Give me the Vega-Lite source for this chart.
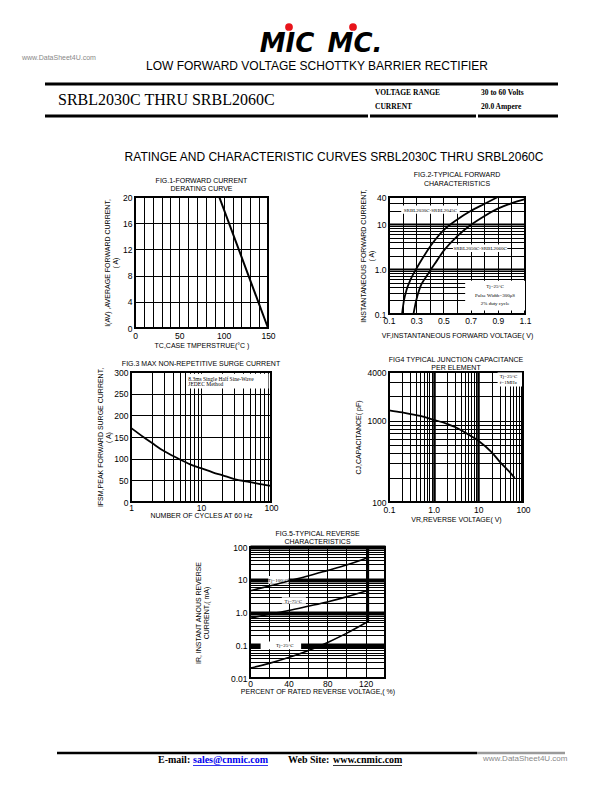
{
"$schema":"https://vega.github.io/schema/vega-lite/v6.json",
"background":"white",
"padding":0,
"spacing":0,
"config":{
 "font":"Liberation Sans",
 "view":{"stroke":null},
 "axis":{"grid":true,"gridColor":"black","gridOpacity":1,"gridWidth":1,"domain":false,"ticks":false,"labelFontSize":8.5,"labelColor":"black","labelPadding":3,"labelFlush":false,"labelOverlap":false,"labelBound":false,"titleFontSize":7,"titleFontWeight":"normal","titleColor":"black","titleLineHeight":8.5,"titlePadding":3},
 "title":{"fontSize":7,"fontWeight":"normal","color":"black","lineHeight":8.5,"frame":"group","anchor":"middle"}
},
"vconcat":[
 {"width":612,"height":170,
  "layer":[
   {"data":{"values":[{"t":"MIC"}]},"mark":{"type":"text","x":287,"y":52,"align":"center","baseline":"alphabetic","font":"DejaVu Sans","fontWeight":"bold","fontStyle":"italic","fontSize":26,"color":"black"},"encoding":{"text":{"field":"t"}}},
   {"data":{"values":[{"t":"MC."}]},"mark":{"type":"text","x":355,"y":52,"align":"center","baseline":"alphabetic","font":"DejaVu Sans","fontWeight":"bold","fontStyle":"italic","fontSize":26,"color":"black"},"encoding":{"text":{"field":"t"}}},
   {"data":{"values":[{"d":1}]},"mark":{"type":"circle","x":289,"y":27,"size":60,"color":"#e8141b","opacity":1},"encoding":{}},
   {"data":{"values":[{"d":2}]},"mark":{"type":"circle","x":353,"y":27,"size":60,"color":"#e8141b","opacity":1},"encoding":{}},
   {"data":{"values":[{"t":"www.DataSheet4U.com"}]},"mark":{"type":"text","x":22,"y":58,"align":"left","baseline":"middle","fontSize":7,"color":"#888888"},"encoding":{"text":{"field":"t"}}},
   {"data":{"values":[{"t":"LOW FORWARD VOLTAGE SCHOTTKY BARRIER RECTIFIER"}]},"mark":{"type":"text","x":317,"y":66,"align":"center","baseline":"middle","fontSize":12,"color":"black"},"encoding":{"text":{"field":"t"}}},
   {"data":{"values":[{"r":1}]},"mark":{"type":"rule","strokeWidth":3,"color":"black"},"encoding":{"x":{"value":45},"x2":{"value":558},"y":{"value":84}}},
   {"data":{"values":[{"t":"SRBL2030C THRU SRBL2060C"}]},"mark":{"type":"text","x":58,"y":100,"align":"left","baseline":"middle","font":"Liberation Serif","fontSize":16,"color":"black"},"encoding":{"text":{"field":"t"}}},
   {"data":{"values":[{"t":"VOLTAGE RANGE"}]},"mark":{"type":"text","x":375,"y":93,"align":"left","baseline":"middle","font":"Liberation Serif","fontWeight":"bold","fontSize":7.5,"color":"black"},"encoding":{"text":{"field":"t"}}},
   {"data":{"values":[{"t":"CURRENT"}]},"mark":{"type":"text","x":375,"y":107,"align":"left","baseline":"middle","font":"Liberation Serif","fontWeight":"bold","fontSize":7.5,"color":"black"},"encoding":{"text":{"field":"t"}}},
   {"data":{"values":[{"t":"30 to 60 Volts"}]},"mark":{"type":"text","x":481,"y":93,"align":"left","baseline":"middle","font":"Liberation Serif","fontWeight":"bold","fontSize":7.5,"color":"black"},"encoding":{"text":{"field":"t"}}},
   {"data":{"values":[{"t":"20.0 Ampere"}]},"mark":{"type":"text","x":481,"y":107,"align":"left","baseline":"middle","font":"Liberation Serif","fontWeight":"bold","fontSize":7.5,"color":"black"},"encoding":{"text":{"field":"t"}}},
   {"data":{"values":[{"r":2}]},"mark":{"type":"rule","strokeWidth":3,"color":"black"},"encoding":{"x":{"value":45},"x2":{"value":368},"y":{"value":116}}},
   {"data":{"values":[{"r":3}]},"mark":{"type":"rule","strokeWidth":3,"color":"black"},"encoding":{"x":{"value":370},"x2":{"value":476},"y":{"value":116}}},
   {"data":{"values":[{"r":4}]},"mark":{"type":"rule","strokeWidth":3,"color":"black"},"encoding":{"x":{"value":478},"x2":{"value":558},"y":{"value":116}}},
   {"data":{"values":[{"t":"RATINGE AND CHARACTERISTIC CURVES SRBL2030C THRU SRBL2060C"}]},"mark":{"type":"text","x":334,"y":157,"align":"center","baseline":"middle","fontSize":12,"color":"black"},"encoding":{"text":{"field":"t"}}}
  ]
 },
 {"hconcat":[
   {"width":21,"height":1,"data":{"values":[]},"mark":"text"},
   {"width":133,"height":131,
    "view":{"stroke":"black","strokeWidth":2},
    "title":{"text":["FIG.1-FORWARD CURRENT","DERATING CURVE"],"offset":1},
    "data":{"values":[{"tc":0,"iav":20},{"tc":95,"iav":20},{"tc":150,"iav":0}]},
    "mark":{"type":"line","color":"black","strokeWidth":2},
    "encoding":{
     "x":{"field":"tc","type":"quantitative","scale":{"domain":[0,150],"nice":false,"zero":false},"axis":{"values":[0,10,20,30,40,50,60,70,80,90,100,110,120,130,140,150],"labelExpr":"datum.value % 50 == 0 ? datum.label : ''","title":"TC,CASE TMPERSTRUE(°C )","labelPadding":3,"titlePadding":2}},
     "y":{"field":"iav","type":"quantitative","scale":{"domain":[0,20],"nice":false},"axis":{"values":[0,4,8,12,16,20],"title":["I(AV) ,AVERAGE FORWARD CURRENT,","( A)"],"titleX":-25}}
    }
   },
   {"width":136,"height":117,
    "view":{"stroke":"black","strokeWidth":2},
    "title":{"text":["FIG.2-TYPICAL FORWARD","CHARACTERISTICS"],"offset":2},
    "encoding":{
     "x":{"field":"x","type":"quantitative","scale":{"domain":[0.1,1.1],"nice":false,"zero":false},"axis":{"values":[0.1,0.2,0.3,0.4,0.5,0.6,0.7,0.8,0.9,1.0,1.1],"labelExpr":"indexof([0.1,0.3,0.5,0.7,0.9,1.1], datum.value) >= 0 ? format(datum.value, '.1f') : ''","title":"VF,INSTANTANEOUS FORWARD VOLTAGE( V)","labelPadding":2,"titlePadding":7}},
     "y":{"field":"y","type":"quantitative","scale":{"type":"log","domain":[0.1,40],"nice":false},"axis":{"values":[0.1,0.2,0.3,0.4,0.5,0.6,0.7,0.8,0.9,1,2,3,4,5,6,7,8,9,10,20,30,40],"labelExpr":"datum.value == 0.1 ? '0.1' : datum.value == 1 ? '1.0' : datum.value == 10 ? '10' : datum.value == 40 ? '40' : ''","gridWidth":{"condition":{"test":"datum.value == 1 || datum.value == 10","value":2},"value":1},"title":["INSTANTANEOUS FORWARD CURRENT,","( A)"],"titleX":-23}}
    },
    "layer":[
     {"data":{"values":[
       {"s":"SRBL2030C-SRBL2045C","x":0.196,"y":0.1},{"s":"SRBL2030C-SRBL2045C","x":0.21,"y":0.2},{"s":"SRBL2030C-SRBL2045C","x":0.23,"y":0.35},{"s":"SRBL2030C-SRBL2045C","x":0.26,"y":0.6},{"s":"SRBL2030C-SRBL2045C","x":0.30,"y":1.0},{"s":"SRBL2030C-SRBL2045C","x":0.35,"y":1.8},{"s":"SRBL2030C-SRBL2045C","x":0.40,"y":3.1},{"s":"SRBL2030C-SRBL2045C","x":0.45,"y":4.9},{"s":"SRBL2030C-SRBL2045C","x":0.50,"y":7.2},{"s":"SRBL2030C-SRBL2045C","x":0.60,"y":12.5},{"s":"SRBL2030C-SRBL2045C","x":0.70,"y":19.5},{"s":"SRBL2030C-SRBL2045C","x":0.80,"y":28},{"s":"SRBL2030C-SRBL2045C","x":0.90,"y":40},
       {"s":"SRBL2050C-SRBL2060C","x":0.28,"y":0.1},{"s":"SRBL2050C-SRBL2060C","x":0.30,"y":0.2},{"s":"SRBL2050C-SRBL2060C","x":0.33,"y":0.4},{"s":"SRBL2050C-SRBL2060C","x":0.37,"y":0.65},{"s":"SRBL2050C-SRBL2060C","x":0.41,"y":1.0},{"s":"SRBL2050C-SRBL2060C","x":0.45,"y":1.5},{"s":"SRBL2050C-SRBL2060C","x":0.50,"y":2.5},{"s":"SRBL2050C-SRBL2060C","x":0.60,"y":5.3},{"s":"SRBL2050C-SRBL2060C","x":0.70,"y":9.5},{"s":"SRBL2050C-SRBL2060C","x":0.80,"y":15},{"s":"SRBL2050C-SRBL2060C","x":0.90,"y":22},{"s":"SRBL2050C-SRBL2060C","x":1.0,"y":29},{"s":"SRBL2050C-SRBL2060C","x":1.1,"y":36}
      ]},
      "mark":{"type":"line","color":"black","strokeWidth":1.8,"interpolate":"monotone"},
      "encoding":{"detail":{"field":"s"}}},
     {"data":{"values":[{"x":0.19,"x2":0.62,"y":17,"y2":26},{"x":0.57,"x2":0.97,"y":2.4,"y2":3.5},{"x":0.66,"x2":1.1,"y":0.12,"y2":0.55}]},
      "mark":{"type":"rect","fill":"white"},
      "encoding":{"x2":{"field":"x2"},"y2":{"field":"y2"}}},
     {"data":{"values":[{"x":0.405,"y":21,"t":"SRBL2030C-SRBL2045C"},{"x":0.77,"y":2.9,"t":"SRBL2050C-SRBL2060C"},{"x":0.88,"y":0.42,"t":"Tj=25°C"},{"x":0.88,"y":0.27,"t":"Pulse Width=300μS"},{"x":0.88,"y":0.18,"t":"2% duty cycle"}]},
      "mark":{"type":"text","font":"Liberation Serif","fontSize":5,"color":"black"},
      "encoding":{"text":{"field":"t"}}}
    ]
   }
  ],"spacing":80},
 {"width":1,"height":3.5,"data":{"values":[]},"mark":"text"},
 {"hconcat":[
   {"width":24,"height":1,"data":{"values":[]},"mark":"text"},
   {"width":140,"height":130,
    "view":{"stroke":"black","strokeWidth":2},
    "title":{"text":"FIG.3 MAX NON-REPETITIVE SURGE CURRENT","offset":0},
    "encoding":{
     "x":{"field":"x","type":"quantitative","scale":{"type":"log","domain":[1,100],"nice":false},"axis":{"values":[1,2,3,4,5,6,7,8,9,10,20,30,40,50,60,70,80,90,100],"labelExpr":"datum.value == 1 || datum.value == 10 || datum.value == 100 ? datum.value + '' : ''","title":"NUMBER OF CYCLES AT 60 Hz","labelPadding":1,"titlePadding":0}},
     "y":{"field":"y","type":"quantitative","scale":{"domain":[0,300],"nice":false},"axis":{"values":[0,50,100,150,200,250,300],"title":["IFSM,PEAK FORWARD SURGE CURRENT,","( A)"],"titleX":-28}}
    },
    "layer":[
     {"data":{"values":[{"x":1,"y":171},{"x":1.5,"y":150},{"x":2,"y":136},{"x":3,"y":117},{"x":4,"y":106},{"x":5,"y":98},{"x":7,"y":87},{"x":10,"y":78},{"x":15,"y":68},{"x":20,"y":62},{"x":30,"y":53},{"x":50,"y":46},{"x":70,"y":41},{"x":100,"y":37}]},
      "mark":{"type":"line","color":"black","strokeWidth":1.8,"interpolate":"monotone"}},
     {"data":{"values":[{"x":6.2,"x2":92,"y":262,"y2":296}]},
      "mark":{"type":"rect","fill":"white"},
      "encoding":{"x2":{"field":"x2"},"y2":{"field":"y2"}}},
     {"data":{"values":[{"x":6.6,"y":285,"t":"8.3ms Single Half Sine-Wave"},{"x":6.6,"y":272,"t":"JEDEC Method"}]},
      "mark":{"type":"text","font":"Liberation Serif","fontSize":5.5,"align":"left","color":"black"},
      "encoding":{"text":{"field":"t"}}}
    ]
   },
   {"width":134,"height":130,
    "view":{"stroke":"black","strokeWidth":2},
    "title":{"text":["FIG4 TYPICAL JUNCTION CAPACITANCE","PER ELEMENT"],"offset":-3},
    "encoding":{
     "x":{"field":"x","type":"quantitative","scale":{"type":"log","domain":[0.1,100],"nice":false},"axis":{"values":[0.1,0.2,0.3,0.4,0.5,0.6,0.7,0.8,0.9,1,2,3,4,5,6,7,8,9,10,20,30,40,50,60,70,80,90,100],"labelExpr":"datum.value == 0.1 ? '0.1' : datum.value == 1 ? '1.0' : datum.value == 10 ? '10' : datum.value == 100 ? '100' : ''","gridWidth":{"condition":{"test":"datum.value == 1 || datum.value == 10","value":2.5},"value":1},"title":"VR,REVERSE VOLTAGE( V)","labelPadding":3,"titlePadding":2}},
     "y":{"field":"y","type":"quantitative","scale":{"type":"log","domain":[100,4000],"nice":false},"axis":{"values":[100,200,300,400,500,600,700,800,900,1000,2000,3000,4000],"labelExpr":"datum.value == 100 || datum.value == 1000 || datum.value == 4000 ? datum.value + '' : ''","title":"CJ,CAPACITANCE( pF)","titleX":-28}}
    },
    "layer":[
     {"data":{"values":[{"x":0.1,"y":1350},{"x":0.2,"y":1270},{"x":0.5,"y":1150},{"x":1,"y":1030},{"x":2,"y":920},{"x":3,"y":840},{"x":5,"y":720},{"x":10,"y":570},{"x":20,"y":410},{"x":30,"y":315},{"x":50,"y":235},{"x":65,"y":198}]},
      "mark":{"type":"line","color":"black","strokeWidth":1.8,"interpolate":"monotone"}},
     {"data":{"values":[{"x":27,"x2":95,"y":2650,"y2":3950}]},
      "mark":{"type":"rect","fill":"white"},
      "encoding":{"x2":{"field":"x2"},"y2":{"field":"y2"}}},
     {"data":{"values":[{"x":30,"y":3600,"t":"Tj=25°C"},{"x":30,"y":3000,"t":"f=1MHz"}]},
      "mark":{"type":"text","font":"Liberation Serif","fontSize":5,"align":"left","color":"black"},
      "encoding":{"text":{"field":"t"}}}
    ]
   }
  ],"spacing":70},
 {"width":1,"height":3.5,"data":{"values":[]},"mark":"text"},
 {"hconcat":[
   {"width":192,"height":1,"data":{"values":[]},"mark":"text"},
   {"width":135,"height":131,
    "view":{"stroke":"black","strokeWidth":2},
    "title":{"text":["FIG.5-TYPICAL REVERSE","CHARACTERISTICS"],"offset":-2},
    "encoding":{
     "x":{"field":"x","type":"quantitative","scale":{"domain":[0,140],"nice":false},"axis":{"values":[0,20,40,60,80,100,120,140],"labelExpr":"datum.value % 40 == 0 && datum.value <= 120 ? datum.label : ''","title":"PERCENT OF RATED REVERSE VOLTAGE,( %)","labelPadding":1,"titlePadding":0}},
     "y":{"field":"y","type":"quantitative","scale":{"type":"log","domain":[0.01,100],"nice":false},"axis":{"values":[0.01,0.02,0.03,0.04,0.05,0.06,0.07,0.08,0.09,0.1,0.2,0.3,0.4,0.5,0.6,0.7,0.8,0.9,1,2,3,4,5,6,7,8,9,10,20,30,40,50,60,70,80,90,100],"labelExpr":"datum.value == 0.01 ? '0.01' : datum.value == 0.1 ? '0.1' : datum.value == 1 ? '1.0' : datum.value == 10 ? '10' : datum.value == 100 ? '100' : ''","gridWidth":{"condition":{"test":"datum.value == 0.1 || datum.value == 1 || datum.value == 10 || datum.value == 100","value":4},"value":1},"title":["IR, INSTANT ANOUS REVERSE","CURRENT,( mA)"],"titleX":-49}}
    },
    "layer":[
     {"data":{"values":[{"x":19,"x2":40,"y":7.6,"y2":13},{"x":33,"x2":58,"y":1.85,"y2":2.9},{"x":11,"x2":53,"y":0.076,"y2":0.13}]},
      "mark":{"type":"rect","fill":"white"},
      "encoding":{"x2":{"field":"x2"},"y2":{"field":"y2"}}},
     {"data":{"values":[
       {"s":"Tj=100°C","x":0,"y":4.6},{"s":"Tj=100°C","x":20,"y":6.4},{"s":"Tj=100°C","x":40,"y":9.2},{"s":"Tj=100°C","x":60,"y":13},{"s":"Tj=100°C","x":80,"y":19},{"s":"Tj=100°C","x":100,"y":28},{"s":"Tj=100°C","x":122,"y":47},
       {"s":"Tj=75°C","x":0,"y":0.67},{"s":"Tj=75°C","x":20,"y":0.88},{"s":"Tj=75°C","x":40,"y":1.15},{"s":"Tj=75°C","x":60,"y":1.55},{"s":"Tj=75°C","x":80,"y":2.1},{"s":"Tj=75°C","x":100,"y":3.0},{"s":"Tj=75°C","x":122,"y":4.7},
       {"s":"Tj=25°C","x":0,"y":0.02},{"s":"Tj=25°C","x":20,"y":0.028},{"s":"Tj=25°C","x":40,"y":0.042},{"s":"Tj=25°C","x":60,"y":0.068},{"s":"Tj=25°C","x":80,"y":0.12},{"s":"Tj=25°C","x":100,"y":0.23},{"s":"Tj=25°C","x":122,"y":0.52}
      ]},
      "mark":{"type":"line","color":"black","strokeWidth":1.6,"interpolate":"monotone"},
      "encoding":{"detail":{"field":"s"}}},
     {"data":{"values":[{"x":122,"y":0.5,"y2":100}]},
      "mark":{"type":"rule","color":"black","strokeWidth":3},
      "encoding":{"y2":{"field":"y2"}}},
     {"data":{"values":[{"x":29,"y":10,"t":"Tj=100°C"},{"x":45,"y":2.3,"t":"Tj=75°C"},{"x":36,"y":0.1,"t":"Tj=25°C"}]},
      "mark":{"type":"text","font":"Liberation Serif","fontSize":5,"color":"black"},
      "encoding":{"text":{"field":"t"}}}
    ]
   }
  ],"spacing":0},
 {"width":612,"height":80,
  "layer":[
   {"data":{"values":[{"r":1}]},"mark":{"type":"rule","strokeWidth":2.5,"color":"black"},"encoding":{"x":{"value":57},"x2":{"value":477},"y":{"value":57}}},
   {"data":{"values":[{"r":2}]},"mark":{"type":"rule","strokeWidth":2.5,"color":"#9a9a9a"},"encoding":{"x":{"value":477},"x2":{"value":565},"y":{"value":57}}},
   {"data":{"values":[{"t":"E-mail:"}]},"mark":{"type":"text","x":158,"y":64,"align":"left","baseline":"middle","font":"Liberation Serif","fontWeight":"bold","fontSize":10,"color":"black"},"encoding":{"text":{"field":"t"}}},
   {"data":{"values":[{"t":"sales@cnmic.com"}]},"mark":{"type":"text","x":193,"y":64,"align":"left","baseline":"middle","font":"Liberation Serif","fontWeight":"bold","fontSize":10,"color":"#0000ee"},"encoding":{"text":{"field":"t"}}},
   {"data":{"values":[{"r":3}]},"mark":{"type":"rule","strokeWidth":0.8,"color":"#0000ee"},"encoding":{"x":{"value":193},"x2":{"value":268},"y":{"value":69.5}}},
   {"data":{"values":[{"t":"Web Site:"}]},"mark":{"type":"text","x":288,"y":64,"align":"left","baseline":"middle","font":"Liberation Serif","fontWeight":"bold","fontSize":10,"color":"black"},"encoding":{"text":{"field":"t"}}},
   {"data":{"values":[{"t":"www.cnmic.com"}]},"mark":{"type":"text","x":333,"y":64,"align":"left","baseline":"middle","font":"Liberation Serif","fontWeight":"bold","fontSize":10,"color":"black"},"encoding":{"text":{"field":"t"}}},
   {"data":{"values":[{"r":4}]},"mark":{"type":"rule","strokeWidth":0.8,"color":"black"},"encoding":{"x":{"value":333},"x2":{"value":402},"y":{"value":69.5}}},
   {"data":{"values":[{"t":"www.DataSheet4U.com"}]},"mark":{"type":"text","x":483,"y":63,"align":"left","baseline":"middle","fontSize":8,"color":"#888888"},"encoding":{"text":{"field":"t"}}}
  ]
 }
]
}
